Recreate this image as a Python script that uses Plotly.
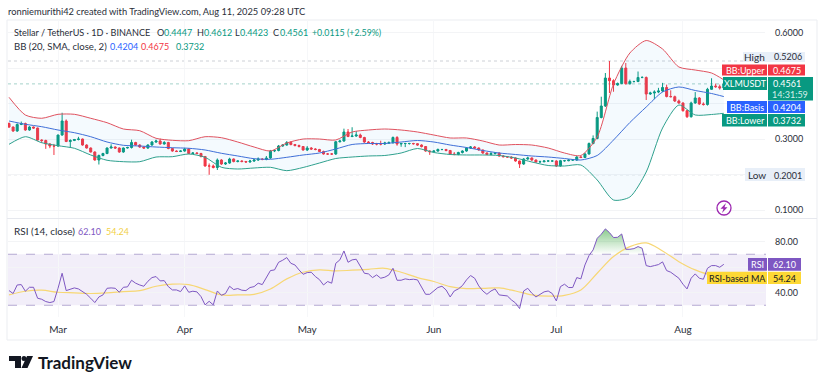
import pandas as pd
import plotly.graph_objects as go

W, H = 825, 385
dates = [d.strftime("%Y-%m-%d") for d in pd.date_range("2025-02-17", periods=176, freq="D")]

opens = [.3445,.3346,.3234,.3417,.3445,.3262,.3346,.3318,.2980,.2966,.2868,.2811,.2811,.3121,.3516,.2938,.2966,.2994,.3008,.2839,
.2755,.2642,.2417,.2544,.2600,.2755,.2783,.2755,.2642,.2755,.2769,.2910,.2839,.2783,.2755,.2839,.2924,.2952,.2868,.2910,
.2741,.2670,.2656,.2670,.2727,.2600,.2614,.2600,.2516,.2248,.2248,.2206,.2417,.2304,.2332,.2445,.2375,.2389,.2375,.2361,
.2389,.2417,.2445,.2431,.2473,.2670,.2685,.2811,.2839,.2910,.2853,.2825,.2797,.2699,.2755,.2727,.2713,.2656,.2586,.2586,
.2586,.2932,.2952,.3206,.3079,.3093,.3121,.3051,.2924,.2910,.2868,.2868,.2868,.2896,.2904,.3051,.2868,.2882,.2882,.2882,
.2876,.2839,.2797,.2670,.2650,.2670,.2713,.2713,.2685,.2586,.2572,.2628,.2670,.2755,.2783,.2755,.2699,.2614,.2572,.2600,
.2614,.2530,.2510,.2501,.2473,.2389,.2304,.2445,.2473,.2417,.2361,.2369,.2389,.2389,.2389,.2248,.2397,.2397,.2417,.2417,
.2501,.2487,.2586,.2882,.3023,.3614,.3938,.4727,.4651,.4530,.4572,.5008,.4566,.4628,.4628,.4741,.4741,.4276,.4304,.4332,
.4361,.4459,.4206,.4200,.4079,.4023,.3806,.3637,.4023,.4164,.3995,.3980,.4408,.4501,.4482,.4447]
closes = [.3346,.3234,.3417,.3445,.3262,.3346,.3318,.2980,.2966,.2868,.2811,.2811,.3121,.3516,.2938,.2966,.2994,.3008,.2839,.2755,
.2642,.2417,.2544,.2600,.2755,.2783,.2755,.2642,.2755,.2769,.2910,.2839,.2783,.2755,.2839,.2924,.2952,.2868,.2910,.2741,
.2670,.2656,.2670,.2727,.2600,.2614,.2600,.2516,.2248,.2248,.2206,.2417,.2304,.2332,.2445,.2375,.2389,.2375,.2361,.2389,
.2417,.2445,.2431,.2473,.2670,.2685,.2811,.2839,.2910,.2853,.2825,.2797,.2699,.2755,.2727,.2713,.2656,.2586,.2586,.2586,
.2932,.2952,.3206,.3079,.3093,.3121,.3051,.2924,.2910,.2868,.2868,.2868,.2896,.2904,.3051,.2868,.2882,.2882,.2882,.2876,
.2839,.2797,.2670,.2650,.2670,.2713,.2713,.2685,.2586,.2572,.2628,.2670,.2755,.2783,.2755,.2699,.2614,.2572,.2600,.2614,
.2530,.2510,.2501,.2473,.2389,.2304,.2445,.2473,.2417,.2361,.2369,.2389,.2389,.2389,.2248,.2397,.2397,.2417,.2417,.2501,
.2487,.2586,.2882,.3023,.3614,.3938,.4727,.4651,.4530,.4572,.5008,.4566,.4628,.4628,.4741,.4741,.4276,.4304,.4332,.4361,
.4459,.4206,.4200,.4079,.4023,.3806,.3637,.4023,.4164,.3995,.3980,.4408,.4501,.4482,.4447,.4561]
highs = [.3475,.3360,.3450,.3500,.3470,.3370,.3360,.3330,.3000,.2990,.2890,.2870,.3130,.3749,.3560,.3000,.3010,.3070,.3020,.2860,
.2770,.2660,.2570,.2620,.2770,.2860,.2800,.2770,.2770,.2790,.2990,.2930,.2860,.2800,.2860,.2950,.2990,.3020,.2950,.2930,
.2760,.2690,.2690,.2760,.2750,.2640,.2640,.2620,.2530,.2320,.2290,.2460,.2440,.2360,.2480,.2460,.2410,.2410,.2390,.2420,
.2450,.2490,.2470,.2530,.2700,.2710,.2840,.2860,.2950,.2950,.2870,.2850,.2810,.2810,.2780,.2750,.2730,.2680,.2610,.2610,
.2950,.2990,.3300,.3290,.3340,.3230,.3160,.3070,.2950,.2930,.2900,.2960,.2930,.2940,.3080,.3090,.2900,.2900,.2900,.2900,
.2890,.2860,.2810,.2690,.2690,.2740,.2730,.2730,.2700,.2640,.2650,.2690,.2780,.2810,.2810,.2770,.2710,.2630,.2640,.2640,
.2630,.2550,.2530,.2520,.2490,.2400,.2470,.2510,.2490,.2430,.2400,.2410,.2410,.2410,.2410,.2420,.2420,.2440,.2440,.2530,
.2530,.2620,.2910,.3110,.3780,.4200,.4868,.5206,.4690,.4600,.5070,.5150,.4680,.4650,.4910,.4780,.4770,.4340,.4380,.4450,
.4590,.4540,.4380,.4230,.4120,.4040,.3830,.4060,.4330,.4190,.4040,.4450,.4720,.4570,.4540,.4612]
lows = [.3320,.3210,.3210,.3400,.3240,.3240,.3300,.2960,.2900,.2730,.2750,.2558,.2790,.3100,.2920,.2755,.2950,.2970,.2820,.2740,
.2630,.2400,.2290,.2520,.2580,.2740,.2730,.2620,.2620,.2740,.2740,.2820,.2760,.2730,.2730,.2820,.2900,.2850,.2850,.2720,
.2650,.2640,.2640,.2650,.2580,.2580,.2580,.2490,.2230,.2001,.2180,.2135,.2280,.2280,.2310,.2350,.2350,.2350,.2340,.2340,
.2360,.2390,.2410,.2410,.2450,.2640,.2660,.2790,.2820,.2830,.2800,.2770,.2680,.2670,.2700,.2690,.2640,.2570,.2560,.2560,
.2560,.2910,.2930,.3060,.3060,.3070,.3030,.2900,.2880,.2840,.2830,.2830,.2840,.2870,.2880,.2820,.2790,.2780,.2850,.2850,
.2820,.2770,.2650,.2560,.2630,.2650,.2690,.2660,.2560,.2550,.2550,.2600,.2650,.2730,.2730,.2680,.2590,.2550,.2550,.2570,
.2510,.2490,.2480,.2450,.2370,.2192,.2280,.2420,.2390,.2340,.2340,.2350,.2370,.2370,.2220,.2230,.2370,.2380,.2390,.2390,
.2470,.2470,.2570,.2860,.3000,.3590,.3910,.4304,.4340,.4510,.4550,.4540,.4540,.4600,.4610,.4720,.4107,.4250,.4130,.4300,
.4330,.4180,.4180,.4050,.4000,.3780,.3600,.3610,.4000,.3970,.3950,.3950,.4390,.4450,.4400,.4423]

bb_dates = dates[::4] + [dates[175]]
bb_upper = [.4183,.3684,.3592,.3704,.3704,.3592,.3468,.3290,.3242,.3028,.2972,.2961,.3073,.3045,.2924,.2783,.2670,.2896,.3008,.3008,
.2980,.3206,.3262,.3290,.3262,.3206,.3121,.3037,.3037,.2952,.2839,.2853,.2839,.2755,.2614,.2544,.3065,.4558,.5431,.5783,
.5544,.5037,.4952,.4868,.4675]
bb_basis = [.3516,.3423,.3355,.3262,.3186,.3073,.2924,.2831,.2811,.2783,.2763,.2747,.2699,.2606,.2530,.2454,.2437,.2493,.2558,.2614,
.2727,.2854,.2882,.2882,.2924,.2966,.2924,.2839,.2769,.2685,.2614,.2572,.2530,.2501,.2459,.2417,.2544,.2980,.3473,.3910,
.4333,.4474,.4375,.4290,.4204]
bb_lower = [.2859,.3073,.2904,.2820,.2747,.2558,.2409,.2369,.2369,.2501,.2510,.2586,.2493,.2211,.2163,.2192,.2211,.2116,.2206,.2332,
.2459,.2501,.2530,.2544,.2614,.2741,.2628,.2572,.2558,.2558,.2544,.2473,.2361,.2262,.2248,.2276,.1854,.1290,.1375,.2079,
.3318,.3966,.3685,.3699,.3732]

rsi = [41.5,39.2,45.9,46.2,41.0,44.1,44.1,35.5,34.7,32.9,32.1,32.9,43.3,55.1,41.5,42.3,43.6,42.8,40.5,38.6,
35.5,32.1,36.5,38.1,43.3,43.6,43.3,40.2,44.1,44.4,49.6,47.3,45.9,44.9,48.8,51.7,52.5,49.1,49.3,44.6,
42.0,42.0,40.7,45.2,40.2,41.0,40.5,36.8,30.3,33.1,30.3,41.2,37.8,39.2,44.9,42.3,43.1,41.8,41.5,43.9,
44.6,47.3,46.2,51.2,57.2,57.7,63.7,65.3,67.4,62.9,61.6,57.7,54.3,55.6,55.9,52.5,50.1,45.9,48.6,47.3,
62.9,65.6,72.6,63.7,65.6,66.1,60.3,55.1,54.6,51.7,53.8,51.2,52.0,53.8,59.0,49.6,
49.6,50.7,50.1,50.4,49.9,44.6,38.6,38.6,41.2,43.9,44.9,42.0,36.5,41.2,42.8,45.4,49.9,53.3,51.2,45.2,
41.2,38.6,41.2,42.8,38.1,37.8,37.3,34.2,31.8,27.4,41.2,43.3,39.4,36.5,38.6,40.5,41.2,39.2,33.4,44.6,
46.5,43.9,43.9,51.7,50.7,61.6,69.0,73.4,82.5,85.7,89.9,87.0,83.1,83.3,85.9,73.9,73.9,74.4,76.0,74.7,
61.1,60.3,61.1,61.9,64.0,57.2,55.9,53.3,51.2,46.5,42.8,51.2,54.6,51.2,50.4,59.0,61.1,61.1,59.8,62.1]
rsi_ma = [38.1,41.0,41.8,40.2,39.7,39.2,39.7,40.7,41.5,44.9,46.5,46.2,42.3,38.1,38.1,38.6,42.8,50.7,55.9,57.7,
56.9,57.5,58.2,59.0,55.9,51.7,48.6,44.6,43.1,43.3,43.6,41.2,38.1,37.1,37.8,42.0,55.1,68.2,76.0,78.9,
72.6,64.2,57.7,53.8,54.24]

price_ticks = [.1, .2, .3, .4, .5, .6]
price_labels = ["0.1000", "", "0.3000", "", "", "0.6000"]
rsi_ticks = [40, 60, 80]
rsi_labels = ["40.00", "", "80.00"]
month_ticks = ["2025-03-01", "2025-04-01", "2025-05-01", "2025-06-01", "2025-07-01", "2025-08-01"]
month_labels = ["Mar", "Apr", "May", "Jun", "Jul", "Aug"]

UP, DOWN, BLUE, PURPLE, YELLOW = "#089981", "#F23645", "#2962FF", "#7E57C2", "#F7D774"
TXT = "#2A2E39"
FONT = "Lato"
px = lambda x: x / W
py = lambda y: 1 - y / H

fig = go.Figure()
common = dict(mode="lines", hoverinfo="skip", showlegend=False)
fig.add_trace(go.Scatter(x=bb_dates, y=bb_upper, line=dict(color="#E0525F", width=1, shape="spline", smoothing=0.7), **common))
fig.add_trace(go.Scatter(x=bb_dates, y=bb_lower, line=dict(color="#2FA18E", width=1, shape="spline", smoothing=0.7), fill="tonexty",
                         fillcolor="rgba(33,150,243,0.05)", **common))
fig.add_trace(go.Scatter(x=bb_dates, y=bb_basis, line=dict(color="#3F6FD8", width=1, shape="spline", smoothing=0.7), **common))
fig.add_trace(go.Candlestick(x=dates, open=opens, high=highs, low=lows, close=closes, whiskerwidth=0,
                             increasing=dict(line=dict(color=UP, width=1), fillcolor=UP),
                             decreasing=dict(line=dict(color=DOWN, width=1), fillcolor=DOWN),
                             showlegend=False, hoverinfo="skip"))
fig.add_trace(go.Scatter(x=dates, y=[70] * len(rsi), xaxis="x2", yaxis="y2", line=dict(width=0), **common))
fig.add_trace(go.Scatter(x=dates, y=[max(r, 70) for r in rsi], xaxis="x2", yaxis="y2", line=dict(width=0),
                         fill="tonexty",
                         fillgradient=dict(type="vertical",
                                           colorscale=[[0, "rgba(76,175,80,0)"], [1, "rgba(76,175,80,0.65)"]]),
                         **common))
fig.add_trace(go.Scatter(x=dates[::4] + [dates[175]], y=rsi_ma, xaxis="x2", yaxis="y2", line=dict(color=YELLOW, width=1.2, shape="spline"), **common))
fig.add_trace(go.Scatter(x=dates, y=rsi, xaxis="x2", yaxis="y2", line=dict(color=PURPLE, width=1), **common))

shapes = []
def rect(x0, y0, x1, y1, color):
    shapes.append(dict(type="rect", xref="paper", yref="paper", x0=px(x0), x1=px(x1), y0=py(y0), y1=py(y1),
                       fillcolor=color, line=dict(width=0), layer="above"))

# panel frame and separator
fx0, fy0, fx1, fy1 = px(7), py(20), px(817), py(340)
shapes.append(dict(type="rect", xref="paper", yref="paper", x0=fx0, x1=fx1, y0=fy1, y1=fy0,
                   line=dict(color="#EBEDF1", width=1), fillcolor="rgba(0,0,0,0)", layer="below"))
shapes.append(dict(type="line", xref="paper", yref="paper", x0=fx0, x1=fx1, y0=py(218.5), y1=py(218.5),
                   line=dict(color="#E6E8EE", width=1), layer="below"))
# dotted levels
for val, x1, col in [(.5206, 745, "#CDD0D6"), (.2001, 745, "#CDD0D6"), (.4561, 723, "#A5D3CA")]:
    shapes.append(dict(type="line", xref="paper", yref="y", x0=px(8), x1=px(x1), y0=val, y1=val,
                       line=dict(color=col, width=1, dash="dot"), layer="below"))
# RSI band
shapes.append(dict(type="rect", xref="paper", yref="y2", x0=px(8), x1=px(766), y0=30, y1=70,
                   fillcolor="rgba(126,87,194,0.10)", line=dict(width=0), layer="below"))
for v in (30, 70):
    shapes.append(dict(type="line", xref="paper", yref="y2", x0=px(8), x1=px(766), y0=v, y1=v,
                       line=dict(color="#B4A9D2", width=1, dash="dash"), layer="below"))

# price-scale boxes
rect(743, 52, 805, 62, "#E8EFF8")
rect(745, 168, 805, 181, "#E8EFF8")
rect(722, 64.5, 767, 75.5, DOWN); rect(768, 64.5, 805, 75.5, DOWN)
rect(723, 77, 767, 90, UP); rect(768, 77, 813, 100.5, UP)
rect(727, 101, 767, 113, BLUE); rect(768, 101, 805, 113, BLUE)
rect(722, 114, 767, 126.5, UP); rect(768, 114, 805, 126.5, UP)
rect(748, 258, 767, 270.7, PURPLE); rect(768, 258, 801, 270.7, PURPLE)
rect(707, 271.7, 767, 284, "#FDD835"); rect(768, 271.7, 801, 284, "#FDD835")

def path(points):
    return "M " + " L ".join(f"{px(a):.5f},{py(b):.5f}" for a, b in points) + " Z"

# lightning badge
shapes.append(dict(type="circle", xref="paper", yref="paper", x0=px(717), x1=px(731), y0=py(215), y1=py(201),
                   line=dict(color="#9C27B0", width=1.3), fillcolor="white", layer="above"))
shapes.append(dict(type="path", xref="paper", yref="paper", fillcolor="#9C27B0", line=dict(width=0), layer="above",
                   path=path([(726, 203), (720.5, 208.8), (723.5, 208.8), (722, 213), (727.5, 207.2), (724.5, 207.2)])))

# TradingView logo
shapes.append(dict(type="path", xref="paper", yref="paper", fillcolor="#131722", line=dict(width=0), layer="above",
                   path=path([(9, 356), (21, 356), (21, 368), (15, 368), (15, 361), (9, 361)])))
shapes.append(dict(type="circle", xref="paper", yref="paper", x0=px(21.5), x1=px(26.5), y0=py(361), y1=py(356),
                   fillcolor="#131722", line=dict(width=0), layer="above"))
shapes.append(dict(type="path", xref="paper", yref="paper", fillcolor="#131722", line=dict(width=0), layer="above",
                   path=path([(27, 356), (33, 356), (27.5, 368), (21.5, 368)])))

ann = []
def text(x, y, s, size=10, color=TXT, anchor="left", family=FONT, weight=None):
    f = dict(size=size, color=color, family=family)
    if weight:
        f["weight"] = weight
    ann.append(dict(text=s, xref="paper", yref="paper", x=px(x), y=py(y), xanchor=anchor, yanchor="middle",
                    showarrow=False, font=f, borderpad=0, borderwidth=0))

L, V = 10.0, 9.0
text(8, 11.5, "ronniemurithi42 created with TradingView.com, Aug 11, 2025 09:28 UTC", 9.3)
text(14, 32.5, "Stellar / TetherUS · 1D · BINANCE", 9.1)
for lx, lab, vx, val in [(157, "O", 164, "0.4447"), (197, "H", 204, "0.4612"), (235, "L", 240, "0.4423"), (273, "C", 280, "0.4561")]:
    text(lx, 32.5, lab, 9.1)
    text(vx, 32.5, val, V, UP)
text(312, 32.5, "+0.0115 (+2.59%)", 8.8, UP)
text(14, 46, "BB (20, SMA, close, 2)", 9.6)
text(110, 46, "0.4204", V, BLUE)
text(141, 46, "0.4675", V, DOWN)
text(176, 46, "0.3732", V, UP)
text(14, 231, "RSI (14, close)", L)
text(78, 231, "62.10", V, PURPLE)
text(106, 231, "54.24", V, "#F2D046")

text(754, 57, "High", L, anchor="center"); text(788, 57, "0.5206", V, anchor="center")
text(757, 175, "Low", L, anchor="center"); text(788, 175, "0.2001", V, anchor="center")
for xc, y, lab, val in [(745, 70, "BB:Upper", "0.4675"), (745, 83.5, "XLMUSDT", "0.4561"),
                        (747, 107, "BB:Basis", "0.4204"), (745, 120.3, "BB:Lower", "0.3732")]:
    text(xc, y, lab, 9, "white", "center")
    text(787, y, val, V, "white", "center")
text(790, 94.5, "14:31:59", V, "#D5EFE9", "center")
text(757.5, 264.5, "RSI", 9, "white", "center"); text(784.5, 264.5, "62.10", V, "white", "center")
text(737, 278, "RSI-based MA", 9, "#131722", "center"); text(784.5, 278, "54.24", V, "#131722", "center")
text(38, 362, "TradingView", 17, "#131722", family="Lato", weight=700)

tf = dict(size=V, color=TXT, family=FONT)
fig.update_layout(
    width=W, height=H, margin=dict(l=0, r=0, t=0, b=0), paper_bgcolor="white", plot_bgcolor="white",
    showlegend=False, shapes=shapes, annotations=ann, hovermode=False,
    xaxis=dict(domain=[px(8), px(765)], range=["2025-02-16 18:00", "2025-08-21 02:00"], type="date", anchor="y",
               tickvals=month_ticks, showticklabels=False, showgrid=True, gridcolor="#F6F7F9", gridwidth=1,
               ticks="", zeroline=False, rangeslider=dict(visible=False), showline=False),
    yaxis=dict(domain=[py(218), py(20)], range=[.0783, .6361], side="right", anchor="x", tickvals=price_ticks,
               ticktext=price_labels, showgrid=True, gridcolor="#F3F4F6", zeroline=False, ticks="", showline=False,
               ticklabelstandoff=9, tickfont=tf),
    xaxis2=dict(domain=[px(8), px(765)], range=["2025-02-16 18:00", "2025-08-21 02:00"], type="date", anchor="y2",
                tickvals=month_ticks, ticktext=month_labels, showgrid=True, gridcolor="#F6F7F9", ticks="",
                zeroline=False, showline=False, ticklabelstandoff=5, tickfont=dict(size=L, color=TXT, family=FONT)),
    yaxis2=dict(domain=[py(317), py(219)], range=[80 - (317 - 241.5) / 1.275, 80 + (241.5 - 219) / 1.275], side="right",
                anchor="x2", tickvals=rsi_ticks, ticktext=rsi_labels, showgrid=True, gridcolor="#F3F4F6",
                zeroline=False, ticks="", showline=False, ticklabelstandoff=9, tickfont=tf),
)
fig.write_html("out.html", config=dict(displayModeBar=False, responsive=False),
               post_script="document.body.style.margin='0';document.documentElement.style.overflow='hidden';")
